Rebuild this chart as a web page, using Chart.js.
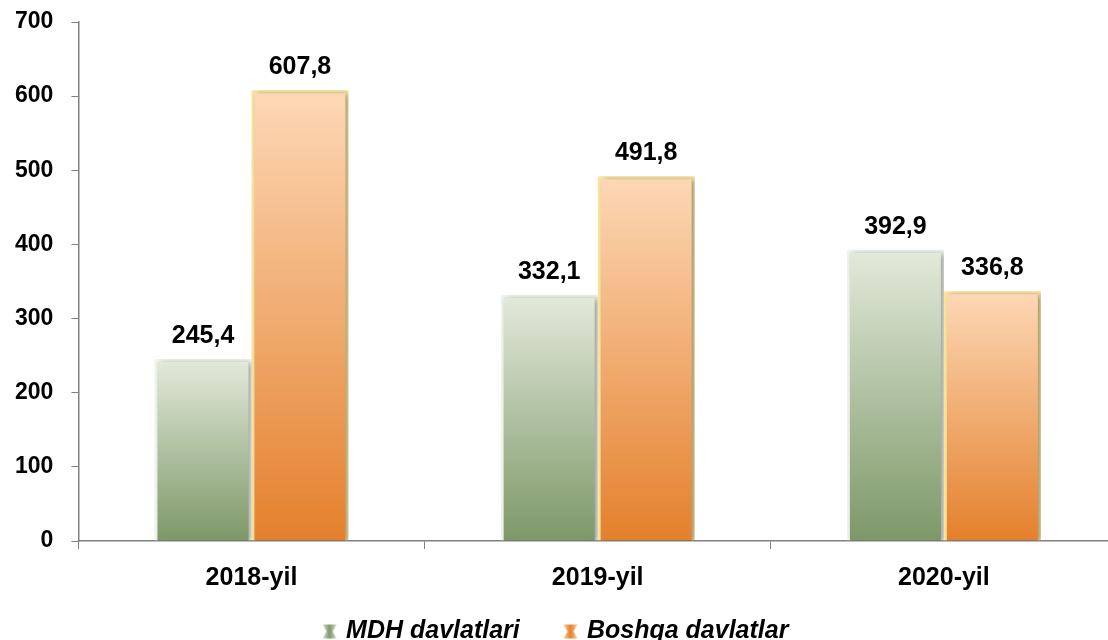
<!DOCTYPE html>
<html>
<head>
<meta charset="utf-8">
<script src="https://cdn.jsdelivr.net/npm/chart.js@4/dist/chart.umd.min.js"></script>
<style>
  html, body { margin: 0; padding: 0; background: #fff; overflow: hidden; }
  #wrap { width: 1196px; height: 654px; }
</style>
</head>
<body>
<div id="wrap"><canvas id="chart"></canvas></div>
<script>
const years = ['2018-yil', '2019-yil', '2020-yil'];
const mdhValues = [245.4, 332.1, 392.9];
const boshqaValues = [607.8, 491.8, 336.8];
const seriesNames = ['MDH davlatlari', 'Boshqa davlatlar'];
const yTicks = [0, 100, 200, 300, 400, 500, 600, 700];

const GREEN = { light: '#e3eadb', dark: '#7d9868', edge: '#f1f5ec' };
const ORANGE = { light: '#fdd8b6', dark: '#e4802c', edge: '#fde79a' };

function barGradient(colors) {
  return (c) => {
    const chart = c.chart;
    if (!chart.chartArea || c.raw == null) return colors.dark;
    const y = chart.scales.y;
    const top = y.getPixelForValue(c.raw);
    const bottom = y.getPixelForValue(0);
    const g = chart.ctx.createLinearGradient(0, top, 0, bottom);
    g.addColorStop(0, colors.light);
    g.addColorStop(1, colors.dark);
    return g;
  };
}

// small hourglass-like legend marker
function makeIcon(colors) {
  const cv = document.createElement('canvas');
  cv.width = 16; cv.height = 16;
  const x = cv.getContext('2d');
  const g = x.createLinearGradient(0, 0, 16, 0);
  g.addColorStop(0, colors.light);
  g.addColorStop(0.5, colors.dark);
  g.addColorStop(1, colors.light);
  x.fillStyle = g;
  x.beginPath();
  x.moveTo(1, 1); x.lineTo(15, 1); x.lineTo(11, 8); x.lineTo(15, 15);
  x.lineTo(1, 15); x.lineTo(5, 8); x.closePath();
  x.fill();
  return cv;
}

const fmt = (v) => v.toFixed(1).replace('.', ',');

const shadowPlugin = {
  id: 'barShadow',
  beforeDatasetsDraw(chart) {
    const ctx = chart.ctx;
    ctx.save();
    ctx.shadowColor = 'rgba(0,0,0,0.35)';
    ctx.shadowBlur = 6;
    ctx.shadowOffsetX = 3;
    ctx.shadowOffsetY = 1;
  },
  afterDatasetsDraw(chart) {
    chart.ctx.restore();
  },
};

const valueLabels = {
  id: 'valueLabels',
  afterDatasetsDraw(chart) {
    const ctx = chart.ctx;
    ctx.save();
    ctx.font = 'bold 25px "Liberation Sans", Arial, sans-serif';
    ctx.fillStyle = '#000';
    ctx.textAlign = 'center';
    ctx.textBaseline = 'alphabetic';
    chart.data.datasets.forEach((ds, i) => {
      chart.getDatasetMeta(i).data.forEach((bar, j) => {
        ctx.fillText(fmt(ds.data[j]), bar.x, bar.y - 16);
      });
    });
    ctx.restore();
  },
};

Chart.defaults.font.family = '"Liberation Sans", Arial, sans-serif';
Chart.defaults.color = '#000';

new Chart(document.getElementById('chart'), {
  type: 'bar',
  data: {
    labels: years,
    datasets: [
      {
        label: seriesNames[0],
        data: mdhValues,
        backgroundColor: barGradient(GREEN),
        borderColor: GREEN.edge,
        borderWidth: 3,
        pointStyle: makeIcon(GREEN),
      },
      {
        label: seriesNames[1],
        data: boshqaValues,
        backgroundColor: barGradient(ORANGE),
        borderColor: ORANGE.edge,
        borderWidth: 3,
        pointStyle: makeIcon(ORANGE),
      },
    ],
  },
  options: {
    responsive: true,
    maintainAspectRatio: false,
    animation: false,
    layout: { padding: { top: 22, right: 79, left: -3, bottom: 0 } },
    datasets: { bar: { barPercentage: 1, categoryPercentage: 0.56 } },
    scales: {
      x: {
        grid: { drawOnChartArea: false, color: '#808080', tickLength: 8 },
        border: { color: '#808080', width: 1.5 },
        ticks: { font: { size: 25, weight: 'bold' }, padding: 14 },
      },
      y: {
        min: 0,
        max: 700,
        afterBuildTicks: (s) => { s.ticks = yTicks.map((v) => ({ value: v })); },
        grid: { drawOnChartArea: false, color: '#808080', tickLength: 7 },
        border: { color: '#808080', width: 1.5 },
        // small lineHeight keeps the top label from pushing the plot down
        ticks: { font: { size: 23, weight: 'bold', lineHeight: 0.3 }, padding: 18 },
      },
    },
    plugins: {
      tooltip: { enabled: false },
      legend: {
        position: 'bottom',
        labels: {
          usePointStyle: true,
          pointStyleWidth: 8,
          padding: 12,
          font: { size: 25, style: 'italic', weight: 'bold' },
          // extra room after the first entry, as in the original legend
          generateLabels: (chart) =>
            Chart.defaults.plugins.legend.labels.generateLabels(chart).map((l, i) => ({
              ...l,
              text: i === 0 ? l.text + '     ' : l.text,
            })),
        },
      },
    },
  },
  plugins: [shadowPlugin, valueLabels],
});
</script>
</body>
</html>
